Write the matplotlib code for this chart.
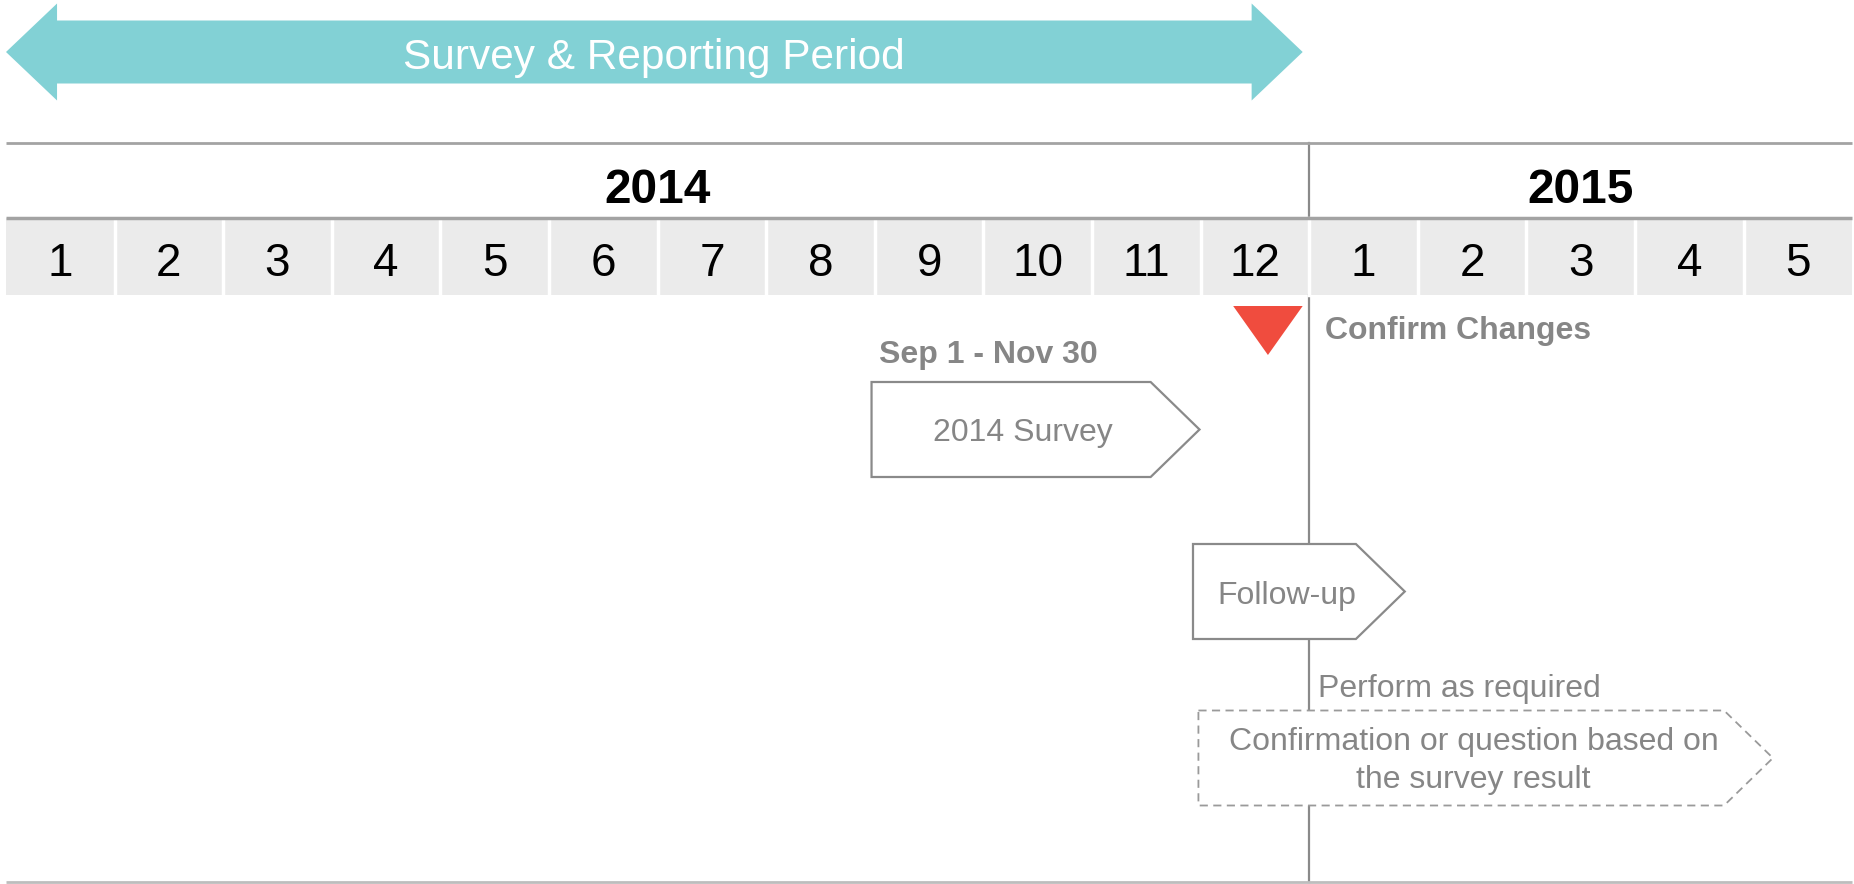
import matplotlib
matplotlib.use("Agg")
import matplotlib.pyplot as plt
from matplotlib.patches import Polygon, Rectangle

plt.rcParams['font.family'] = ['Liberation Sans', 'DejaVu Sans']

# --- data ---
months_2014 = [str(m) for m in range(1, 13)]
months_2015 = [str(m) for m in range(1, 6)]
month_labels = months_2014 + months_2015
years = ["2014", "2015"]
year_start = [0, 12]
year_end = [12, 17]

period_label = "Survey & Reporting Period"
period_start = 0.0
period_end = 11.94

task_labels = ["2014 Survey", "Follow-up",
               "Confirmation or question based on\nthe survey result"]
task_start = [7.97, 10.93, 10.98]
task_end = [10.99, 12.88, 16.27]
task_dashed = [False, False, True]
task_notes = ["Sep 1 - Nov 30", None, "Perform as required"]

milestone_label = "Confirm Changes"
milestone_month = 11.62

TEAL = "#82D1D5"
RED = "#F04C3E"
GRAY_TXT = "#868686"
GRAY_LINE = "#A3A3A3"

fig = plt.figure(figsize=(18.54, 8.84), dpi=100)
ax = fig.add_axes([0, 0, 1, 1])
px = 108.6  # pixels per month
ax.set_xlim(-6 / px, 1848 / px)
ax.set_ylim(884, 0)
ax.axis("off")

# top period arrow
head = 0.47
yc, sh, hh = 52, 31.5, 48.5
pts = [(period_start, yc), (period_start + head, yc - hh), (period_start + head, yc - sh),
       (period_end - head, yc - sh), (period_end - head, yc - hh), (period_end, yc),
       (period_end - head, yc + hh), (period_end - head, yc + sh),
       (period_start + head, yc + sh), (period_start + head, yc + hh)]
ax.add_patch(Polygon(pts, closed=True, facecolor=TEAL, edgecolor="none"))
ax.text((period_start + period_end) / 2, 69.5, period_label, color="white",
        fontsize=30.5, ha="center", va="baseline")

# year row
n = len(month_labels)
ax.plot([0, n], [143, 143], color=GRAY_LINE, lw=2, solid_capstyle="butt")
for y, s, e in zip(years, year_start, year_end):
    ax.text((s + e) / 2, 203, y, fontsize=34.5, fontweight="bold",
            ha="center", va="baseline")

# month band
ax.add_patch(Rectangle((0, 218), n, 77, facecolor="#EBEBEB", edgecolor="none"))
for i in range(1, n):
    ax.plot([i, i], [218, 295], color="white", lw=2.5)
ax.plot([0, n], [218, 218], color=GRAY_LINE, lw=2.5, solid_capstyle="butt")
for i, lab in enumerate(month_labels):
    ax.text(i + 0.5, 276, lab, fontsize=33, ha="center", va="baseline")

# year divider
ax.plot([12, 12], [143, 218], color="#8A8A8A", lw=1.6, zorder=1)
ax.plot([12, 12], [295, 882], color="#8A8A8A", lw=1.6, zorder=1)
ax.plot([0, n], [882, 882], color="#BDBDBD", lw=2, solid_capstyle="butt")

# milestone
w = 0.32
ax.add_patch(Polygon([(milestone_month - w, 306), (milestone_month + w, 306),
                      (milestone_month, 355)], closed=True, facecolor=RED,
                     edgecolor="none", zorder=3))
ax.text(12.15, 339, milestone_label, fontsize=23, fontweight="bold",
        color=GRAY_TXT, ha="left", va="baseline")

# tasks
rows = [429.5, 591.5, 758]
baselines = [[441.5], [604], [750, 788]]
depth = 0.45
half = 47.5
for lab, s, e, dashed, yc, bl in zip(task_labels, task_start, task_end,
                                     task_dashed, rows, baselines):
    shape = [(s, yc - half), (e - depth, yc - half), (e, yc),
             (e - depth, yc + half), (s, yc + half)]
    if dashed:
        ax.add_patch(Polygon(shape, closed=True, facecolor="white",
                             edgecolor="#9A9A9A", lw=1.3,
                             linestyle=(0, (4.5, 3)), zorder=4))
    else:
        ax.add_patch(Polygon(shape, closed=True, facecolor="white",
                             edgecolor="#8A8A8A", lw=1.6, zorder=4))
    tx = (s + e - depth) / 2 + depth * 0.25
    for line, yb in zip(lab.split("\n"), bl):
        ax.text(tx, yb, line, fontsize=23, color=GRAY_TXT, ha="center",
                va="baseline", zorder=5)

ax.text(task_start[0] + 0.07, 363, task_notes[0], fontsize=23,
        fontweight="bold", color=GRAY_TXT, ha="left", va="baseline")
ax.text(12.08, 696.5, task_notes[2], fontsize=23, color=GRAY_TXT,
        ha="left", va="baseline")

fig.savefig("out.png", dpi=100)
